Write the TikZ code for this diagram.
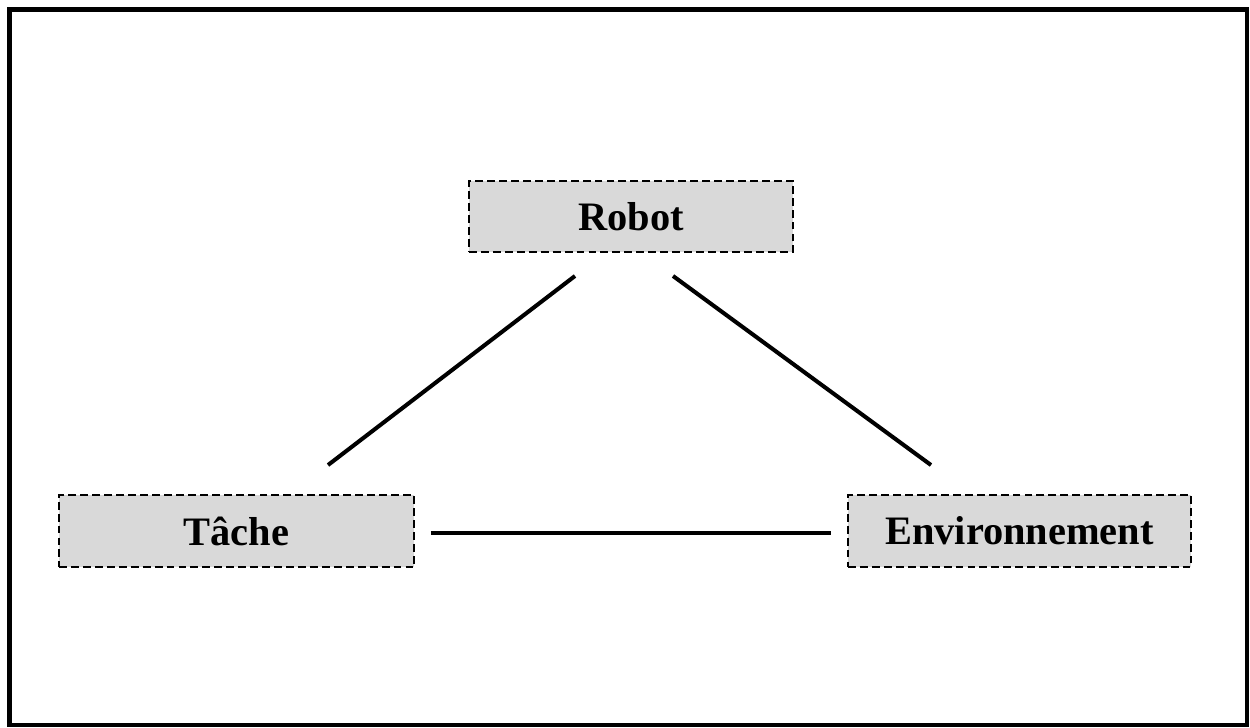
\documentclass[tikz,border=0pt]{standalone}
\usepackage{fontspec}
\setmainfont{Liberation Serif}
\usetikzlibrary{positioning, calc}
\definecolor{boxgray}{HTML}{D9D9D9}
\tikzset{
  % Triangle diagram
  conceptbox/.style = { draw, line width=1.1pt, dash pattern=on 4.5pt off 2.3pt,
                        fill=boxgray, inner sep=0, align=center,
                        font=\fontsize{23}{28}\selectfont\bfseries },
  linkline/.style   = { line width=2.3pt },
  outerframe/.style = { line width=2.8pt }
}
\begin{document}
\begin{tikzpicture}[x=0.02cm, y=-0.02cm]

  % --- Canvas and frame ---------------------------------------------
  \useasboundingbox (0,0) rectangle (1250,727);
  \draw[outerframe] (9.5,9.5) rectangle (1247,725);

  % --- Concepts ------------------------------------------------------
  \node[conceptbox, minimum width=6.48cm, minimum height=1.42cm] (robot) at (631,216.5) {Robot};
  \node[conceptbox, minimum width=7.1cm, minimum height=1.44cm]  (tache) at (236.5,531) {Tâche};
  \node[conceptbox, minimum width=6.86cm, minimum height=1.44cm] (env)   at (1019.5,531) {Environnement};

  % --- Links (they stop short of the boxes) --------------------------
  \draw[linkline] ([shift={(-56,23)}]robot.south) -- ([shift={(91.5,-29)}]tache.north);
  \draw[linkline] ([shift={(42,23)}]robot.south) -- ([shift={(-88.5,-29)}]env.north);
  \draw[linkline] ([shift={(16,2)}]tache.east) -- ([shift={(-16,2)}]env.west);

\end{tikzpicture}
\end{document}
